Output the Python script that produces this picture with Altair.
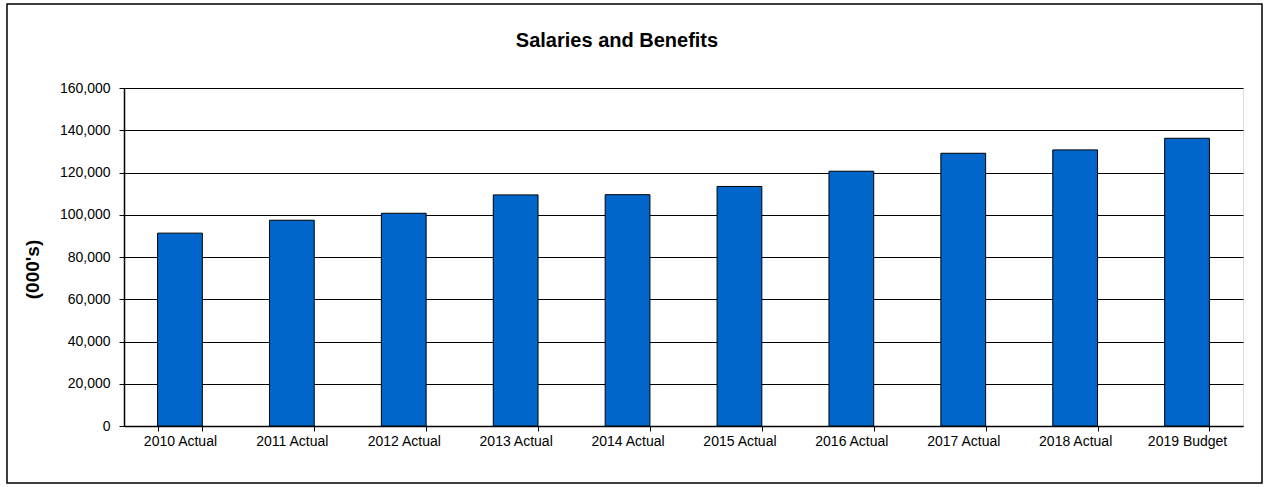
import altair as alt
import pandas as pd

categories = ["2010 Actual", "2011 Actual", "2012 Actual", "2013 Actual", "2014 Actual",
              "2015 Actual", "2016 Actual", "2017 Actual", "2018 Actual", "2019 Budget"]
values = [91300, 97400, 100700, 109400, 109500, 113400, 120600, 129100, 130700, 136200]
y_ticks = [0, 20000, 40000, 60000, 80000, 100000, 120000, 140000, 160000]
chart_title = ["Salaries and Benefits"]

df = pd.DataFrame({"category": categories, "value": values})
FONT = "Liberation Sans"

W, H = 1119, 338

bars = alt.Chart(df).mark_bar(color="#0066CC", stroke="black", strokeWidth=1).encode(
    x=alt.X("category:N", sort=categories, title=None,
            scale=alt.Scale(paddingInner=0.6, paddingOuter=0.3),
            axis=alt.Axis(labelAngle=0, labelFont=FONT, labelFontSize=14, labelColor="black",
                          domainColor="black", domainWidth=1.5, tickColor="black", tickSize=5,
                          tickBand="extent", labelPadding=3, grid=False)),
    y=alt.Y("value:Q", title="(000's)",
            scale=alt.Scale(domain=[0, 160000], nice=False),
            axis=alt.Axis(values=y_ticks, format=",.0f", labelFont=FONT, labelFontSize=14,
                          labelColor="black", labelPadding=9,
                          domainColor="black", domainWidth=1.5, tickColor="black", tickSize=5,
                          gridColor="black", gridWidth=1.2, gridOpacity=1,
                          titleFont=FONT, titleFontSize=19, titleFontWeight="bold",
                          titleColor="black", titleAngle=270, titleAlign="center",
                          titleBaseline="middle", titleX=-92, titleY=181)),
)

title = alt.Chart(pd.DataFrame({"t": chart_title})).mark_text(
    font=FONT, fontSize=20, fontWeight="bold", color="black",
    align="center", baseline="alphabetic"
).encode(text="t:N", x=alt.value(493), y=alt.value(-41))

border = alt.Chart(pd.DataFrame({"a": [1]})).mark_rect(
    fill=None, stroke="black", strokeWidth=1.5
).encode(x=alt.value(-117), x2=alt.value(1138), y=alt.value(-84), y2=alt.value(395))

chart = alt.layer(bars, title, border).properties(
    width=W, height=H,
    autosize=alt.AutoSizeParams(type="none"),
    padding={"left": 124, "top": 88, "right": 27, "bottom": 61},
).configure_view(stroke=None).configure(background="white")

chart.save("out.html", embed_options={"renderer": "svg", "actions": False})
